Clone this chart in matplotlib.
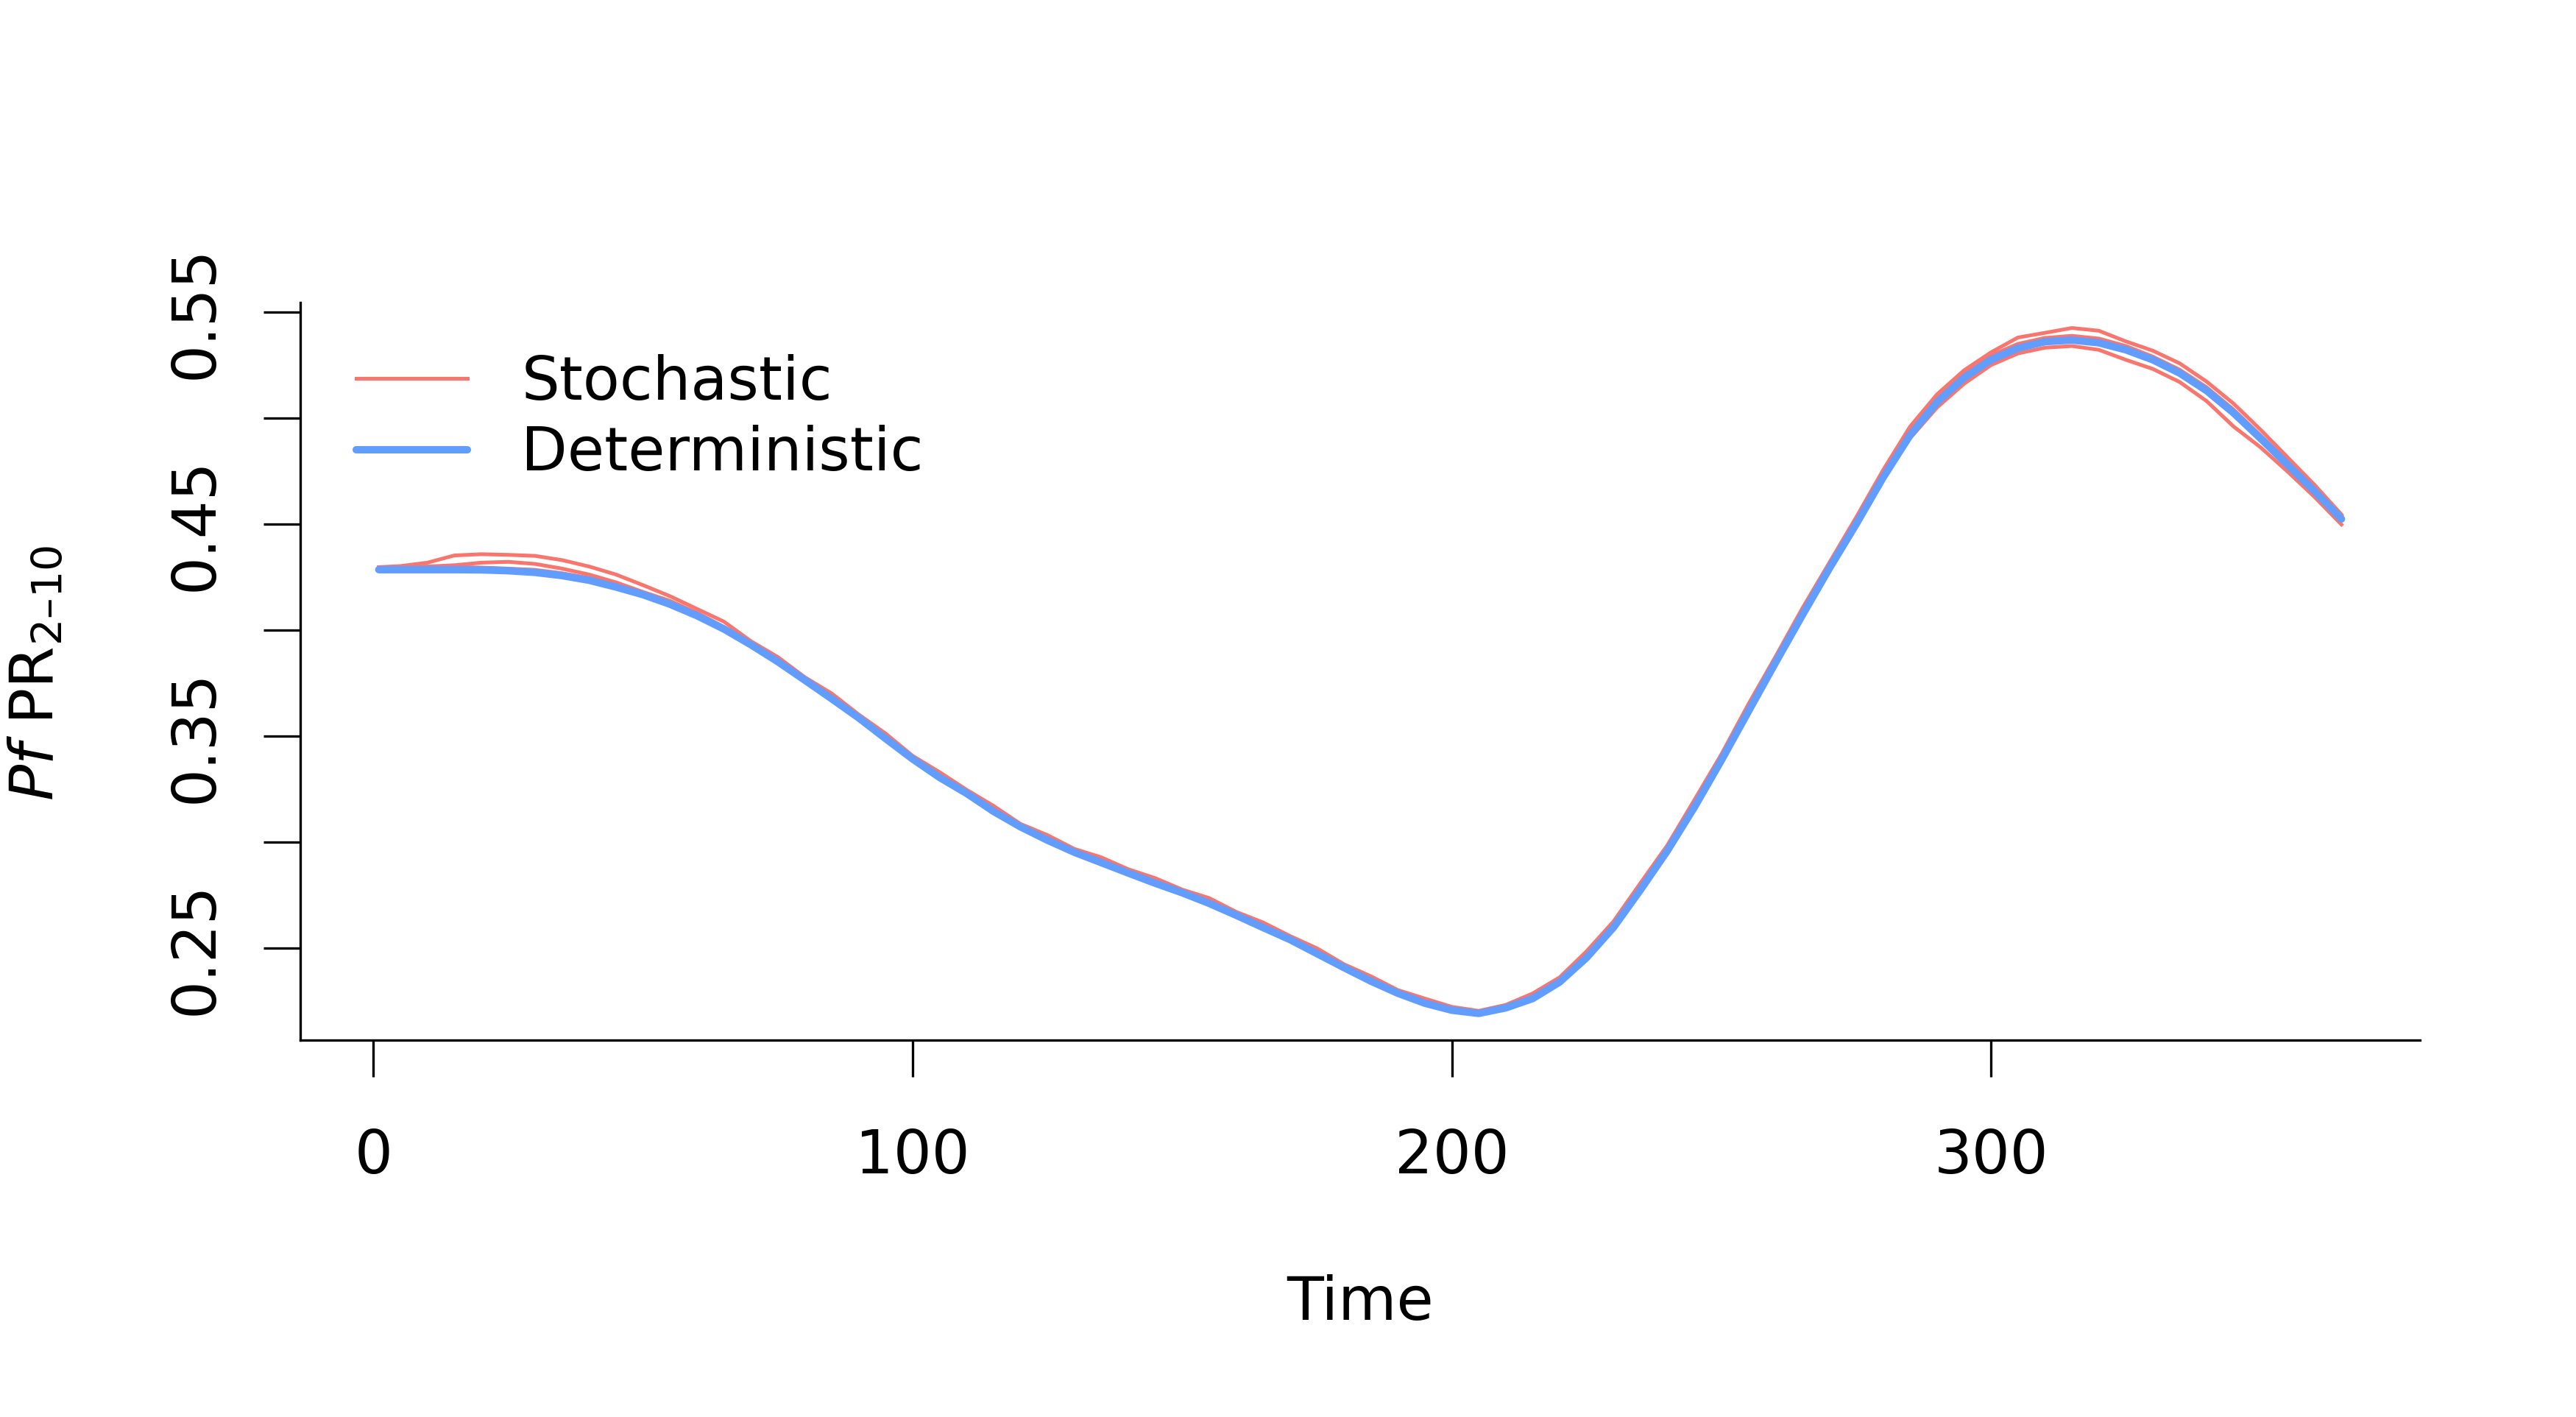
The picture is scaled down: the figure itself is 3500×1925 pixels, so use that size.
import numpy as np
import matplotlib
matplotlib.use("Agg")
import matplotlib.pyplot as plt

# time axis (days), sampled every 5 days
days = [1] + list(range(5, 366, 5))

# deterministic model output
pfpr_det = [0.4285, 0.4285, 0.4285, 0.4285, 0.4284, 0.4280, 0.4272, 0.4257, 0.4235, 0.4203,
            0.4167, 0.4122, 0.4068, 0.4005, 0.3931, 0.3851, 0.3764, 0.3676, 0.3586, 0.3488,
            0.3392, 0.3305, 0.3230, 0.3145, 0.3072, 0.3009, 0.2952, 0.2903, 0.2854, 0.2806,
            0.2761, 0.2711, 0.2655, 0.2597, 0.2540, 0.2474, 0.2408, 0.2344, 0.2287, 0.2240,
            0.2207, 0.2192, 0.2218, 0.2262, 0.2340, 0.2455, 0.2598, 0.2775, 0.2960, 0.3165,
            0.3386, 0.3616, 0.3845, 0.4070, 0.4290, 0.4500, 0.4720, 0.4920, 0.5075, 0.5190,
            0.5275, 0.5330, 0.5360, 0.5368, 0.5355, 0.5322, 0.5275, 0.5212, 0.5129, 0.5024,
            0.4904, 0.4780, 0.4655, 0.4524]

# stochastic runs
pfpr_sto1 = [0.4297, 0.4302, 0.4318, 0.4352, 0.4358, 0.4355, 0.4350, 0.4330, 0.4300, 0.4262,
             0.4212, 0.4160, 0.4100, 0.4040, 0.3948, 0.3873, 0.3778, 0.3701, 0.3602, 0.3512,
             0.3407, 0.3330, 0.3247, 0.3171, 0.3086, 0.3033, 0.2968, 0.2928, 0.2872, 0.2830,
             0.2776, 0.2736, 0.2671, 0.2621, 0.2557, 0.2499, 0.2424, 0.2367, 0.2302, 0.2262,
             0.2223, 0.2204, 0.2232, 0.2286, 0.2362, 0.2485, 0.2626, 0.2807, 0.2986, 0.3199,
             0.3414, 0.3650, 0.3873, 0.4102, 0.4317, 0.4532, 0.4755, 0.4960, 0.5112, 0.5225,
             0.5310, 0.5380, 0.5402, 0.5425, 0.5412, 0.5362, 0.5318, 0.5258, 0.5172, 0.5068,
             0.4945, 0.4815, 0.4685, 0.4545]
pfpr_sto2 = [0.4292, 0.4298, 0.4300, 0.4306, 0.4318, 0.4322, 0.4312, 0.4290, 0.4262, 0.4225,
             0.4180, 0.4138, 0.4082, 0.4015, 0.3940, 0.3862, 0.3771, 0.3684, 0.3594, 0.3494,
             0.3398, 0.3312, 0.3236, 0.3151, 0.3079, 0.3016, 0.2958, 0.2909, 0.2861, 0.2811,
             0.2767, 0.2716, 0.2662, 0.2603, 0.2546, 0.2480, 0.2414, 0.2350, 0.2292, 0.2247,
             0.2213, 0.2198, 0.2222, 0.2273, 0.2349, 0.2466, 0.2609, 0.2788, 0.2972, 0.3180,
             0.3398, 0.3630, 0.3858, 0.4082, 0.4300, 0.4505, 0.4715, 0.4905, 0.5050, 0.5162,
             0.5250, 0.5305, 0.5332, 0.5340, 0.5322, 0.5275, 0.5232, 0.5170, 0.5080, 0.4960,
             0.4862, 0.4748, 0.4628, 0.4498]
pfpr_sto3 = [0.4290, 0.4293, 0.4296, 0.4298, 0.4295, 0.4290, 0.4284, 0.4268, 0.4246, 0.4212,
             0.4176, 0.4130, 0.4077, 0.4011, 0.3937, 0.3858, 0.3768, 0.3682, 0.3590, 0.3492,
             0.3397, 0.3309, 0.3234, 0.3150, 0.3076, 0.3013, 0.2956, 0.2907, 0.2858, 0.2809,
             0.2765, 0.2714, 0.2659, 0.2600, 0.2544, 0.2478, 0.2411, 0.2347, 0.2290, 0.2244,
             0.2211, 0.2196, 0.2220, 0.2270, 0.2346, 0.2462, 0.2605, 0.2783, 0.2968, 0.3176,
             0.3395, 0.3625, 0.3856, 0.4080, 0.4302, 0.4515, 0.4735, 0.4940, 0.5098, 0.5210,
             0.5295, 0.5350, 0.5378, 0.5388, 0.5375, 0.5340, 0.5290, 0.5228, 0.5145, 0.5040,
             0.4918, 0.4795, 0.4668, 0.4540]
stochastic_runs = [pfpr_sto1, pfpr_sto2, pfpr_sto3]

x_ticks = [0, 100, 200, 300]
y_ticks = [0.25, 0.30, 0.35, 0.40, 0.45, 0.50, 0.55]
y_ticklabels = ["0.25", "", "0.35", "", "0.45", "", "0.55"]

red = "#F8766D"
blue = "#619CFF"
fs = 23.5

plt.rcParams['font.family'] = ['DejaVu Sans']
fig = plt.figure(figsize=(14, 7.7), dpi=250)
ax = fig.add_axes([408/3500, 1-1413/1925, (3288-408)/3500, (1413-411)/1925])

for i, run in enumerate(stochastic_runs):
    ax.plot(days, run, color=red, lw=1.45, label="Stochastic" if i == 0 else None)
ax.plot(days, pfpr_det, color=blue, lw=2.9, solid_capstyle="round", label="Deterministic")

ax.set_xlim(-13.56, 379.56)
ax.set_ylim(0.2066, 0.5545)

for s in ["top", "right"]:
    ax.spines[s].set_visible(False)
for s in ["left", "bottom"]:
    ax.spines[s].set_linewidth(0.95)

ax.set_xticks(x_ticks)
ax.set_xticklabels([str(t) for t in x_ticks])
ax.set_yticks(y_ticks)
ax.set_yticklabels(y_ticklabels)
ax.tick_params(axis="both", direction="out", length=14.4, width=0.95, labelsize=fs)
ax.tick_params(axis="x", pad=20)
ax.tick_params(axis="y", pad=15)
for lab in ax.get_yticklabels():
    lab.set_rotation(90)
    lab.set_va("center")
    lab.set_ha("right")

fig.text(1848/3500, 1-1770/1925, "Time", ha="center", va="center", fontsize=fs)
fig.text(49/3500, 1-915/1925, "$\\mathit{Pf}\\ \\mathrm{PR}_{2\u201310}$", rotation=90,
         ha="center", va="center", fontsize=fs)

ax.legend(loc="upper left", bbox_to_anchor=(484/3500, 1-481/1925), bbox_transform=fig.transFigure,
          frameon=False, fontsize=fs, handlelength=1.85, handletextpad=0.9,
          labelspacing=0.21, borderpad=0, borderaxespad=0)

fig.savefig("out.png", dpi=250, facecolor="white")
